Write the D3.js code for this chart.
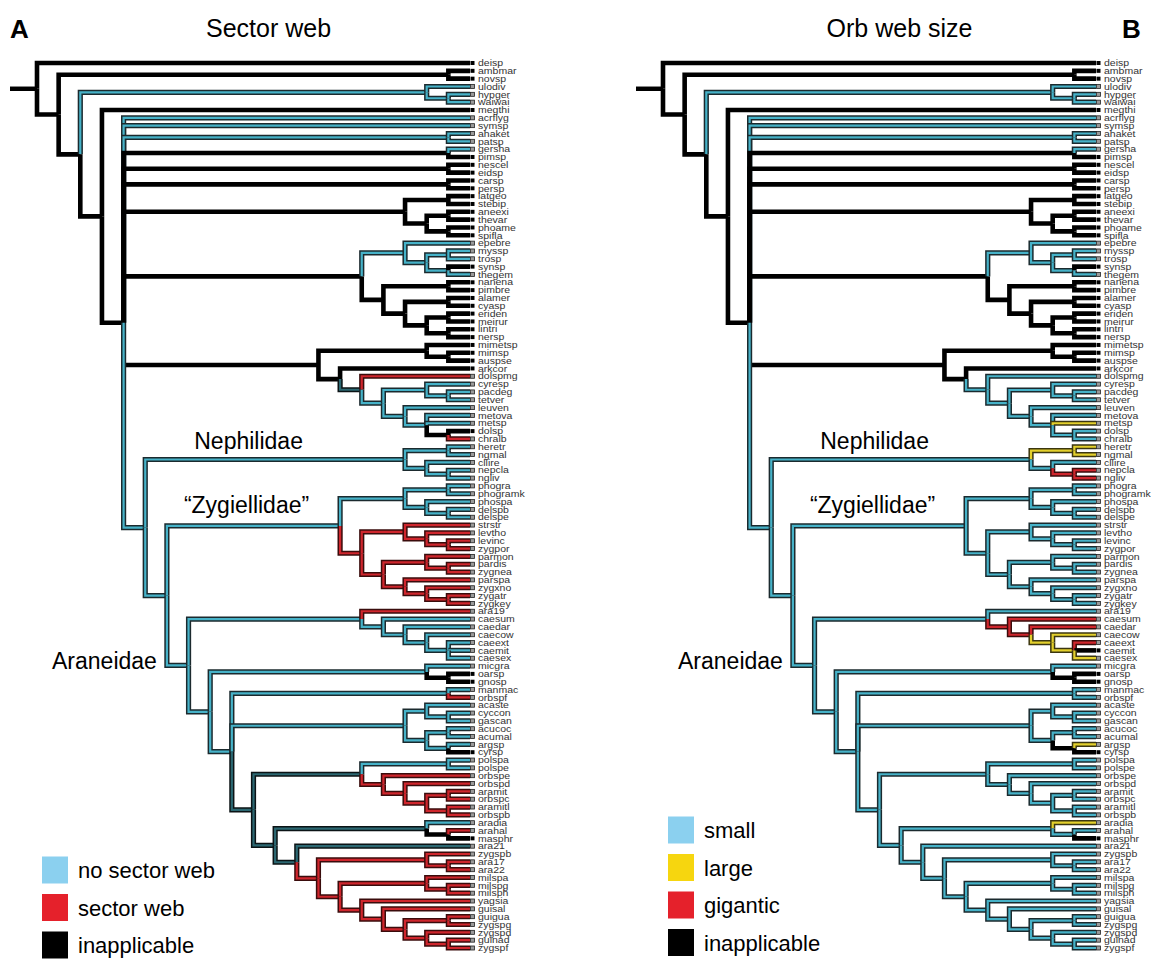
<!DOCTYPE html>
<html>
<head>
<meta charset="utf-8">
<script src="https://cdn.jsdelivr.net/npm/d3@7"></script>
<style>
  body { margin: 0; background: #fff; }
  text { font-family: "Liberation Sans", Arial, sans-serif; }
</style>
</head>
<body>
<svg id="canvas"></svg>
<script>
// tree: [level, "LR states", children...], tips "name:LR"
// states: b blue/small, r red/gigantic, y yellow/large, k inapplicable, d mixed
const tree =
[20,"kk",
  "deisp:kk",
  [19,"kk",
    [1,"kk","ambmar:kk","novsp:kk"],
    [18,"kk",
      [2,"bb","ulodiv:bb",[1,"bb","hypger:bb","waiwai:bb"]],
      [17,"kk",
        "megthi:kk",
        [16,"kk",
          "acrflyg:bb",
          "symsp:bb",
          [1,"bb","ahaket:bb","patsp:bb"],
          [1,"kk","gersha:bb","pimsp:kk"],
          [1,"kk","nescel:kk","eidsp:kk"],
          [1,"kk","carsp:kk","persp:kk"],
          [3,"kk",[1,"kk","latgeo:kk","stebip:kk"],[2,"kk",[1,"kk","aneexi:kk","thevar:kk"],[1,"kk","phoame:kk","spifla:kk"]]],
          [5,"kk",
            [3,"bb","epebre:bb",[2,"bb",[1,"bb","myssp:bb","trosp:bb"],[1,"bb","synsp:kk","thegem:bb"]]],
            [4,"kk",[1,"kk","nanena:kk","pimbre:kk"],[3,"kk",[1,"kk","alamer:kk","cyasp:kk"],[2,"kk",[1,"kk","eriden:kk","meirur:kk"],[1,"kk","lintri:kk","nersp:kk"]]]]
          ],
          [7,"kk",
            [2,"kk","mimetsp:kk",[1,"kk","mimsp:kk","auspse:kk"]],
            [6,"kk","arkcor:kk",
              [5,"db","dolspmg:rb",
                [4,"bb",
                  [2,"bb","cyresp:bb",[1,"bb","pacdeg:bb","tetver:bb"]],
                  [3,"bb","leuven:bb",[2,"bb","metova:bb","metsp:by",[1,"kb","dolsp:kb","chralb:rb"]]]
                ]
              ]
            ]
          ],
          [15,"bb",
            [3,"bb",[1,"by","heretr:by","ngmal:by"],[2,"bb","cllire:bb",[1,"br","nepcla:br","ngliv:br"]]],
            [14,"bb",
              [6,"bb",
                [3,"bb",[1,"bb","phogra:bb","phogramk:bb"],[2,"bb","phospa:bb",[1,"bb","delspb:bb","delspe:bb"]]],
                [5,"rb",
                  [3,"rb","strstr:rb",[2,"rb","levtho:rb",[1,"rb","levinc:rb","zygpor:rb"]]],
                  [4,"rb",[2,"rb","parmon:rb",[1,"rb","pardis:rb","zygnea:rb"]],[3,"rb","parspa:rb",[2,"rb","zygxno:rb",[1,"rb","zygatr:rb","zygkey:rb"]]]]
                ]
              ],
              [13,"bb",
                [5,"bb","ara19:rb",[4,"br","caesum:br",[3,"br","caedar:br",[2,"by","caecow:by",[1,"by","caeext:br","caemit:bk","caesex:by"]]]]],
                [12,"bb",
                  [2,"bb","micgra:bb",[1,"kk","oarsp:kk","gnosp:kk"]],
                  [11,"bb",
                    [1,"bb","manmac:bb","orbspf:rb"],
                    [3,"bb",[2,"bb","acaste:bb",[1,"bb","cyccon:bb","gascan:bb"]],[2,"bb",[1,"bb","acucoc:bb","acumal:bb"],[1,"bk","argsp:by","cyrsp:kk"]]],
                    [10,"db",
                      [5,"db",[1,"bb","polspa:bb","polspe:bb"],[4,"rb","orbspe:rb",[3,"rb","orbspd:rb",[2,"rb",[1,"rb","aramit:rb","orbspc:rb"],[1,"rb","aramitl:rb","orbspb:rb"]]]]],
                      [9,"db",
                        [2,"db","aradia:by",[1,"kb","arahal:rb","masphr:kk"]],
                        [8,"db","ara21:db",
                          [7,"rb",
                            [2,"rb","zygspb:rb",[1,"rb","ara17:rb","ara22:rb"]],
                            [6,"rb",
                              [2,"rb","milspa:rb",[1,"rb","milspg:rb","milsph:rb"]],
                              [5,"rb","yagsia:rb",[4,"rb","guisal:rb",[3,"rb",[1,"rb","guigua:rb","zygspg:rb"],[2,"rb","zygspd:rb",[1,"rb","guinad:rb","zygspf:rb"]]]]]
                            ]
                          ]
                        ]
                      ]
                    ]
                  ]
                ]
              ]
            ]
          ]
        ]
      ]
    ]
  ]
]

const panelTitles = ["Sector web", "Orb web size"]
const panelLetters = ["A", "B"]
const cladeNames = ["Nephilidae", "\u201cZygiellidae\u201d", "Araneidae"]
const cladeFirstTips = ["heretr", "phogra", "ara19"]
const cladeLevels = [3, 6, 13]
const legendLabels = [["no sector web", "sector web", "inapplicable"], ["small", "large", "gigantic", "inapplicable"]]
const legendStates = [["b", "r", "k"], ["b", "y", "r", "k"]]

const width = 1151
const height = 962

const looks = {
    b: { outer: '#1b2a2e', inner: '#46b2c8' },
    r: { outer: '#3a0c0c', inner: '#cf262d' },
    y: { outer: '#3b3610', inner: '#e3d02c' },
    d: { outer: '#0b1315', inner: '#2c6872' },
    k: { outer: '#000', inner: null }
}
const legendFill = { b: '#8bd0ef', r: '#e5212b', y: '#f6d60f', k: '#000' }

const svg = d3.select('#canvas')
    .attr('width', width)
    .attr('height', height)

const root = d3.hierarchy(tree, d => Array.isArray(d) ? d.slice(2) : null)
root.each(n => {
    if (Array.isArray(n.data)) {
        n.level = n.data[0]
        n.code = n.data[1]
    } else {
        const parts = n.data.split(':')
        n.name = parts[0]
        n.code = parts[1]
        n.level = 0
    }
})

const leaves = root.leaves()
const yScale = d3.scaleLinear()
    .domain([0, leaves.length - 1])
    .range([63, 948])

leaves.forEach((n, i) => { n.yPos = yScale(i) })
root.eachAfter(n => {
    if (n.children) {
        n.yPos = (n.children[0].yPos + n.children[n.children.length - 1].yPos) / 2
    }
})

function drawPanel(p, left, right) {
    const xScale = d3.scaleLinear()
        .domain([20, 0])
        .range([left, right])
    const g = svg.append('g')

    // root stub
    g.append('line')
        .attr('x1', left - 27).attr('x2', xScale(root.level))
        .attr('y1', root.yPos).attr('y2', root.yPos)
        .attr('stroke', '#000')
        .attr('stroke-width', 4.5)

    root.descendants().forEach(n => {
        if (!n.parent) return
        const look = looks[n.code[p]]
        const path = `M${xScale(n.parent.level)},${n.parent.yPos}V${n.yPos}H${xScale(n.level)}`
        g.append('path')
            .attr('d', path)
            .attr('fill', 'none')
            .attr('stroke', look.outer)
            .attr('stroke-width', look.inner ? 5.2 : 4.6)
            .attr('stroke-linejoin', 'miter')
        if (look.inner) {
            g.append('path')
                .attr('d', path)
                .attr('fill', 'none')
                .attr('stroke', look.inner)
                .attr('stroke-width', 2.2)
                .attr('stroke-linejoin', 'miter')
        }
    })

    // tips
    leaves.forEach(n => {
        const st = n.code[p]
        g.append('rect')
            .attr('x', xScale(0) + 0.5)
            .attr('y', n.yPos - 2)
            .attr('width', 4)
            .attr('height', 4)
            .attr('fill', st === 'k' ? '#000' : '#9a9a9a')
            .attr('stroke', st === 'k' ? 'none' : '#222')
            .attr('stroke-width', 0.8)
        g.append('text')
            .attr('transform', `translate(${xScale(0) + 8},${n.yPos + 3.2}) scale(1,0.8)`)
            .attr('font-size', 10.5)
            .attr('fill', '#333')
            .text(n.name)
    })

    // titles
    svg.append('text')
        .attr('x', (left + right) / 2 + (p === 0 ? 15 : 20))
        .attr('y', 37)
        .attr('text-anchor', 'middle')
        .attr('font-size', 25)
        .text(panelTitles[p])
    svg.append('text')
        .attr('x', p === 0 ? 10 : 1122)
        .attr('y', 38)
        .attr('font-size', 26)
        .attr('font-weight', 'bold')
        .text(panelLetters[p])

    // clade labels, placed next to the stem of each clade
    cladeNames.forEach((name, i) => {
        let node = leaves.find(l => l.name === cladeFirstTips[i])
        while (node.level !== cladeLevels[i]) node = node.parent
        const px = xScale(node.parent.level)
        const t = svg.append('text')
            .attr('font-size', 23)
            .text(name)
        if (i === 0) t.attr('x', px + 49).attr('y', node.yPos - 10)
        if (i === 1) t.attr('x', px + 17).attr('y', node.yPos - 13)
        if (i === 2) t.attr('x', px - 10).attr('y', node.yPos + 4).attr('text-anchor', 'end')
    })

    // legend
    const lx = p === 0 ? 42 : 668
    const first = p === 0 ? 870 : 830
    legendLabels[p].forEach((lab, i) => {
        const cy = first + i * 37.5
        svg.append('rect')
            .attr('x', lx)
            .attr('y', cy - 13.5)
            .attr('width', 26)
            .attr('height', 27)
            .attr('fill', legendFill[legendStates[p][i]])
        svg.append('text')
            .attr('x', lx + 36)
            .attr('y', cy + 8)
            .attr('font-size', 22)
            .text(lab)
    })
}

drawPanel(0, 37, 470)
drawPanel(1, 663, 1096)
</script>
</body>
</html>
